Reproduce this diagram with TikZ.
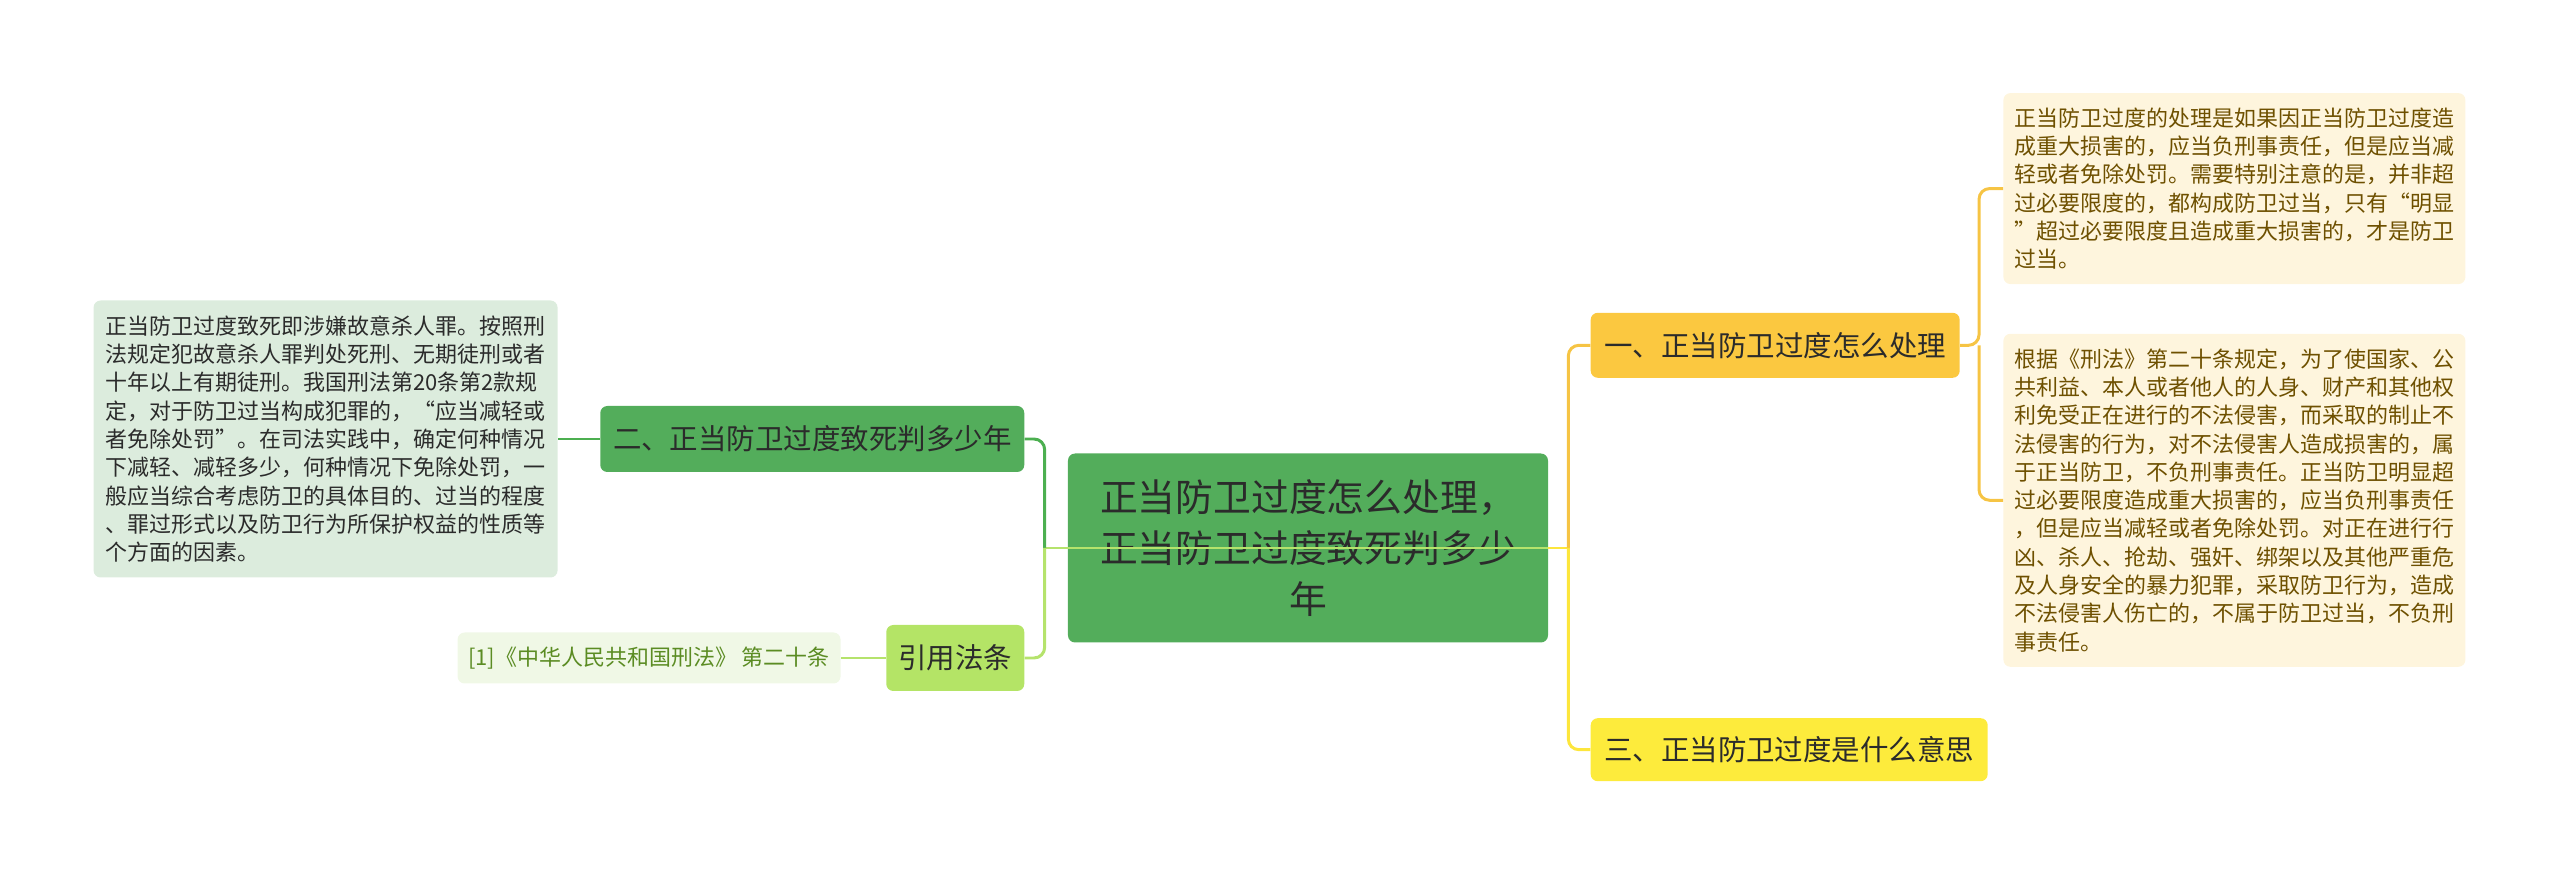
\documentclass[tikz,border=0pt]{standalone}
\usepackage{fontspec}
\setmainfont{Noto Sans CJK SC}
\usepackage{xcolor}
\usetikzlibrary{positioning}

\definecolor{rootgreen}{HTML}{53AD5B}
\definecolor{refgreen}{HTML}{B4E466}
\definecolor{notegreen}{HTML}{DCECDD}
\definecolor{citegreen}{HTML}{F0F8E6}
\definecolor{citetext}{HTML}{5B8C23}
\definecolor{orangefill}{HTML}{FBC840}
\definecolor{yellowfill}{HTML}{FDEB3C}
\definecolor{creamfill}{HTML}{FEF5DD}
\definecolor{browntext}{HTML}{6E5000}
\definecolor{textdark}{HTML}{2B2B2B}
\definecolor{linegreen}{HTML}{4CAF50}
\definecolor{linelgreen}{HTML}{B5E36C}
\definecolor{lineorange}{HTML}{F6C444}
\definecolor{lineyellow}{HTML}{FDE63C}

\begin{document}
\begin{tikzpicture}[
        node distance=0.85cm,
        topic/.style={
            rectangle, rounded corners=4pt, fill=rootgreen,
            minimum width=9.6cm, minimum height=3.78cm,
            align=center, text=textdark,
            font=\fontsize{21.5}{28.8}\selectfont
        },
        branch/.style={
            rectangle, rounded corners=4pt, inner sep=2pt,
            minimum height=1.3cm, align=center, text=textdark,
            font=\fontsize{16.2}{20}\selectfont
        },
        note/.style={
            rectangle, rounded corners=4pt, inner sep=2pt,
            minimum width=9.24cm, align=left,
            font=\fontsize{12.5}{16.1}\selectfont
        },
        link/.style={line width=1.7pt, rounded corners=6pt}
    ]

    \useasboundingbox (-26.16,-6.62) rectangle (25.04,10.96);

    % Central topic
    \node[topic] (center) {正当防卫过度怎么处理，\\正当防卫过度致死判多少\\年};

    % Right branches
    \node[branch, fill=orangefill, minimum width=7.38cm, above right=1.5cm and 0.84cm of center] (handle) {一、正当防卫过度怎么处理};
    \node[branch, fill=yellowfill, minimum width=7.94cm, minimum height=1.26cm, below right=1.5cm and 0.84cm of center] (meaning) {三、正当防卫过度是什么意思};
    \node[note, fill=creamfill, text=browntext, minimum height=3.82cm, above right=0.56cm and 0.86cm of handle] (handlea) {正当防卫过度的处理是如果因正当防卫过度造\\成重大损害的，应当负刑事责任，但是应当减\\轻或者免除处罚。需要特别注意的是，并非超\\过必要限度的，都构成防卫过当，只有“明显\\”超过必要限度且造成重大损害的，才是防卫\\过当。};
    \node[note, fill=creamfill, text=browntext, minimum height=6.66cm, below=0.98cm of handlea] (handleb) {根据《刑法》第二十条规定，为了使国家、公\\共利益、本人或者他人的人身、财产和其他权\\利免受正在进行的不法侵害，而采取的制止不\\法侵害的行为，对不法侵害人造成损害的，属\\于正当防卫，不负刑事责任。正当防卫明显超\\过必要限度造成重大损害的，应当负刑事责任\\，但是应当减轻或者免除处罚。对正在进行行\\凶、杀人、抢劫、强奸、绑架以及其他严重危\\及人身安全的暴力犯罪，采取防卫行为，造成\\不法侵害人伤亡的，不属于防卫过当，不负刑\\事责任。};

    % Left branches
    \node[branch, fill=rootgreen, minimum width=8.48cm, minimum height=1.32cm, left=0.86cm of center, yshift=2.18cm] (death) {二、正当防卫过度致死判多少年};
    \node[branch, fill=refgreen, minimum width=2.76cm, minimum height=1.32cm, left=0.86cm of center, yshift=-2.2cm] (law) {引用法条};
    \node[note, fill=notegreen, text=textdark, minimum width=9.28cm, minimum height=5.54cm, left=0.84cm of death] (deatha) {正当防卫过度致死即涉嫌故意杀人罪。按照刑\\法规定犯故意杀人罪判处死刑、无期徒刑或者\\十年以上有期徒刑。我国刑法第20条第2款规\\定，对于防卫过当构成犯罪的，“应当减轻或\\者免除处罚”。在司法实践中，确定何种情况\\下减轻、减轻多少，何种情况下免除处罚，一\\般应当综合考虑防卫的具体目的、过当的程度\\、罪过形式以及防卫行为所保护权益的性质等\\个方面的因素。};
    \node[note, fill=citegreen, text=citetext, minimum width=7.66cm, minimum height=1.02cm, align=center, left=0.9cm of law] (cite) {[1]《中华人民共和国刑法》 第二十条};

    % Junctions
    \coordinate (lj) at ([xshift=-0.46cm]center.west);
    \coordinate (rj) at ([xshift=0.4cm]center.east);
    \coordinate (hj) at ([xshift=0.38cm]handle.east);

    % Connectors
    \draw[link, linelgreen] (lj) -- (center.east);
    \draw[link, lineyellow] (center.east) -- (rj);
    \draw[link, lineorange] (rj) |- (handle.west);
    \draw[link, lineyellow] (rj) |- (meaning.west);
    \draw[link, lineorange] (handle.east) -- (hj) |- (handlea.west);
    \draw[link, lineorange] (hj) |- (handleb.west);
    \draw[link, linegreen] (lj) |- (death.east);
    \draw[link, linelgreen] (lj) |- (law.east);
    \draw[link, linegreen] (death.west) -- (deatha.east);
    \draw[link, linelgreen] (law.west) -- (cite.east);

\end{tikzpicture}
\end{document}
